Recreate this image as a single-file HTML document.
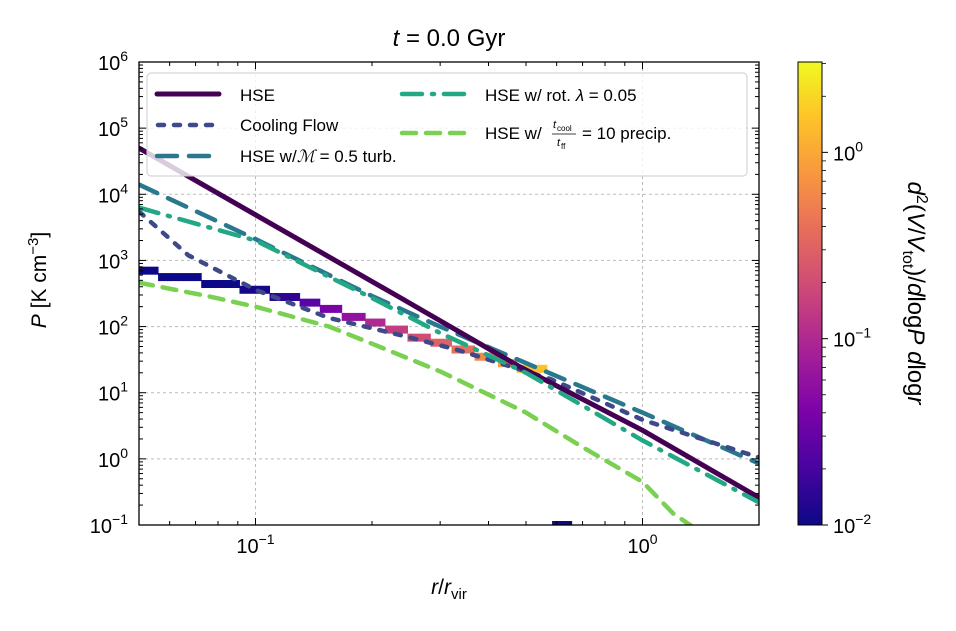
<!DOCTYPE html>
<html><head><meta charset="utf-8"><style>
body{margin:0;background:#fff;}
svg text{font-family:"Liberation Sans","DejaVu Sans",sans-serif;fill:#000;}
</style></head><body>
<svg id="chart" width="956" height="626" viewBox="0 0 956 626" xmlns="http://www.w3.org/2000/svg">
<defs><clipPath id="plotclip"><rect x="139" y="62" width="620" height="463"/></clipPath>
<linearGradient id="plasma" x1="0" y1="1" x2="0" y2="0">
<stop offset="0" stop-color="#0d0887"/><stop offset="0.13" stop-color="#4b03a1"/><stop offset="0.25" stop-color="#7d03a8"/><stop offset="0.38" stop-color="#a82296"/><stop offset="0.5" stop-color="#cb4679"/><stop offset="0.63" stop-color="#e56b5d"/><stop offset="0.75" stop-color="#f89441"/><stop offset="0.88" stop-color="#fdc328"/><stop offset="1" stop-color="#f0f921"/>
</linearGradient></defs>
<g id="grid"></g>
<g id="hist" clip-path="url(#plotclip)"></g>
<g id="lines" clip-path="url(#plotclip)"></g>
<rect x="139" y="62" width="620" height="463" fill="none" stroke="#000" stroke-width="1.3"/>
<g id="ticks"></g>
<text x="449" y="46" font-size="24" text-anchor="middle"><tspan font-style="italic">t</tspan> = 0.0 Gyr</text>
<text x="449" y="594" font-size="21" text-anchor="middle"><tspan font-style="italic">r</tspan>/<tspan font-style="italic">r</tspan><tspan font-size="15" dy="5">vir</tspan></text>
<text transform="translate(46,280) rotate(-90)" font-size="21" text-anchor="middle"><tspan font-style="italic">P</tspan> [K cm<tspan font-size="15" dy="-8">−3</tspan><tspan dy="8">]</tspan></text>
<g>
<rect x="147" y="73" width="600" height="103" rx="4" fill="rgba(255,255,255,0.8)" stroke="#ccc" stroke-width="1"/>
<g><line x1="157" y1="94" x2="219" y2="94" stroke="#440154" stroke-width="5" stroke-linecap="round"/><text x="240" y="101" font-size="17">HSE</text></g>
<g><line x1="158" y1="125" x2="219" y2="125" stroke="#3e4989" stroke-width="4.5" stroke-linecap="round" stroke-dasharray="6 10"/><text x="240" y="131" font-size="17">Cooling Flow</text></g>
<g><line x1="157" y1="156" x2="219" y2="156" stroke="#2a788e" stroke-width="4.5" stroke-linecap="round" stroke-dasharray="20 12"/><text x="240" y="162" font-size="17">HSE w/<tspan font-style="italic" font-family="Liberation Serif">ℳ</tspan> = 0.5 turb.</text></g>
<g><line x1="402" y1="94" x2="464" y2="94" stroke="#22a884" stroke-width="4.5" stroke-linecap="round" stroke-dasharray="20 10 2 10"/><text x="485" y="101" font-size="17">HSE w/ rot. <tspan font-style="italic">λ</tspan> = 0.05</text></g>
<g><line x1="402" y1="133" x2="464" y2="133" stroke="#7ad151" stroke-width="4.5" stroke-linecap="round" stroke-dasharray="14 10"/><text x="485" y="139" font-size="17">HSE w/ </text>
<text x="553" y="128" font-size="11" font-style="italic">t</text><text x="557" y="131" font-size="8">cool</text><line x1="552" y1="134" x2="576" y2="134" stroke="#000" stroke-width="0.8"/><text x="557" y="146" font-size="11" font-style="italic">t</text><text x="561" y="149" font-size="8">ff</text>
<text x="582" y="139" font-size="17">= 10 precip.</text></g>
</g>
<g>
<rect x="798" y="62" width="24" height="463" fill="url(#plasma)" stroke="#000" stroke-width="1"/>
<g id="cbticks"></g>
<text transform="translate(908,293) rotate(90)" font-size="24" text-anchor="middle"><tspan font-style="italic">d</tspan><tspan font-size="16" dy="-9">2</tspan><tspan dy="9">(</tspan><tspan font-style="italic">V</tspan>/<tspan font-style="italic">V</tspan><tspan font-size="16" dy="5">tot</tspan><tspan dy="-5">)/</tspan><tspan font-style="italic">d</tspan>log<tspan font-style="italic">P</tspan> <tspan font-style="italic">d</tspan>log<tspan font-style="italic">r</tspan></text>
</g>
</svg>
<script>
const xDecades = [0.1, 1];
const yDecades = [-1, 0, 1, 2, 3, 4, 5, 6];
const cbDecades = [-2, -1, 0];
const hseR = [0.05, 0.1, 0.235, 0.48, 1, 2];
const hseP = [50000, 4900, 280, 25, 2.7, 0.26];
const coolR = [0.05, 0.067, 0.1, 0.155, 0.235, 0.33, 0.58, 1, 2];
const coolP = [5500, 1200, 360, 135, 75, 45, 16, 3.9, 1.05];
const turbR = [0.05, 0.1, 0.2, 0.3, 0.5, 1, 2];
const turbP = [14000, 2100, 290, 100, 28, 5, 0.85];
const rotR = [0.05, 0.1, 0.2, 0.3, 0.5, 1, 2];
const rotP = [6300, 2000, 270, 80, 20, 1.9, 0.22];
const precR = [0.05, 0.075, 0.1, 0.155, 0.2, 0.3, 0.5, 0.7, 1, 1.2, 1.45];
const precP = [460, 290, 200, 100, 55, 21, 5, 1.5, 0.45, 0.15, 0.07];
const binEdges = [0.05,0.056,0.0724,0.0909,0.1087,0.130,0.1466,0.167,0.192,0.216,0.247,0.283,0.321,0.368,0.423,0.473,0.566];
const binP = [700,560,440,360,280,230,185,140,115,90,68,57,45,35,28,23];
const binC = [0.01,0.01,0.01,0.011,0.015,0.025,0.04,0.06,0.1,0.15,0.2,0.3,0.4,0.6,0.9,1.5];
const lowBinEdges = [0.584, 0.658];
const lowBinP = [0.1];
const lowBinC = [0.01];

const X0=139,X1=759,Y0=62,Y1=525;
const lxMin=Math.log10(0.05), lxMax=Math.log10(2), lyMin=-1, lyMax=6;
const cbMin=-2, cbMax=0.485;
function sx(r){return X0+(Math.log10(r)-lxMin)/(lxMax-lxMin)*(X1-X0);}
function sy(p){return Y1-(Math.log10(p)-lyMin)/(lyMax-lyMin)*(Y1-Y0);}
function scb(v){return 525-(Math.log10(v)-cbMin)/(cbMax-cbMin)*463;}
const NS="http://www.w3.org/2000/svg";
function mk(tag,attrs,parent){const e=document.createElementNS(NS,tag);for(const k in attrs)e.setAttribute(k,attrs[k]);parent.appendChild(e);return e;}
const stops=[[0,[13,8,135]],[0.13,[75,3,161]],[0.25,[125,3,168]],[0.38,[168,34,150]],[0.5,[203,70,121]],[0.63,[229,107,93]],[0.75,[248,148,65]],[0.88,[253,195,40]],[1,[240,249,33]]];
function plasma(v){let t=(Math.log10(v)-cbMin)/(cbMax-cbMin);t=Math.max(0,Math.min(1,t));for(let i=1;i<stops.length;i++){if(t<=stops[i][0]){const a=stops[i-1],b=stops[i];const f=(t-a[0])/(b[0]-a[0]);const c=a[1].map((x,j)=>Math.round(x+(b[1][j]-x)*f));return `rgb(${c})`;}}return 'rgb(240,249,33)';}

const grid=document.getElementById('grid'), ticks=document.getElementById('ticks');
xDecades.forEach(d=>{const x=sx(d);
 const g=mk('line',{x1:x,x2:x,y1:Y0,y2:Y1,stroke:'#bbb','stroke-width':1,'stroke-dasharray':'3 3'},grid);
 
 
 const t=mk('text',{x:x,y:553,'font-size':20,'text-anchor':'middle'},ticks);
 
 
 const e=Math.round(Math.log10(d));
 t.innerHTML=`10<tspan font-size="14" dy="-9">${e<0?'−'+(-e):e}</tspan>`;
});
for(let dec=-2;dec<=0;dec++)for(let m=1;m<10;m++){const r=m*Math.pow(10,dec);if(r<0.05||r>2)continue;const x=sx(r);const L=m===1?7:4;
 mk('line',{x1:x,x2:x,y1:Y1,y2:Y1-L,stroke:'#000','stroke-width':1},ticks);
 mk('line',{x1:x,x2:x,y1:Y0,y2:Y0+L,stroke:'#000','stroke-width':1},ticks);}
yDecades.forEach(d=>{const y=Y1-(d-lyMin)/(lyMax-lyMin)*(Y1-Y0);
 if(d>lyMin&&d<lyMax){const g=mk('line',{x1:X0,x2:X1,y1:y,y2:y,stroke:'#bbb','stroke-width':1,'stroke-dasharray':'3 3'},grid);
 
 }
 const t=mk('text',{x:128,y:y+8,'font-size':20,'text-anchor':'end'},ticks);
 
 
 t.innerHTML=`10<tspan font-size="14" dy="-9">${d<0?'−'+(-d):d}</tspan>`;
 for(let m=1;m<10;m++){if(d===lyMax&&m>1)break;const yy=sy(m*Math.pow(10,d));const L=m===1?7:4;
  mk('line',{x1:X0,x2:X0+L,y1:yy,y2:yy,stroke:'#000','stroke-width':1},ticks);
  mk('line',{x1:X1,x2:X1-L,y1:yy,y2:yy,stroke:'#000','stroke-width':1},ticks);}
});
const hist=document.getElementById('hist');
binP.forEach((p,i)=>{const x1=sx(binEdges[i]),x2=sx(binEdges[i+1]),y=sy(p);
 const r=mk('rect',{x:x1,y:y-4,width:x2-x1+0.5,height:8,fill:plasma(binC[i])},hist);
 
 });
lowBinP.forEach((p,i)=>{const x1=sx(lowBinEdges[i]),x2=sx(lowBinEdges[i+1]),y=sy(p);
 const r=mk('rect',{x:x1,y:y-4,width:x2-x1,height:8,fill:plasma(lowBinC[i])},hist);
 
 });
const lines=document.getElementById('lines');
function curve(R,P,color,w,dash,name){const pts=R.map((r,i)=>sx(r).toFixed(1)+','+sy(P[i]).toFixed(1)).join(' ');
 const a={points:pts,fill:'none',stroke:color,'stroke-width':w,'stroke-linecap':'round','stroke-linejoin':'round'};if(dash)a['stroke-dasharray']=dash;
 const l=mk('polyline',a,lines);
 
 }
curve(turbR,turbP,'#2a788e',4.5,'20 12','turbulence-line');
curve(coolR,coolP,'#3e4989',4.5,'6 10','cooling-flow-line');
curve(hseR,hseP,'#440154',5,null,'hse-line');
curve(rotR,rotP,'#22a884',4.5,'20 10 2 10','rotation-line');
curve(precR,precP,'#7ad151',4.5,'14 10','precipitation-line');
const cbt=document.getElementById('cbticks');
cbDecades.forEach(d=>{const y=scb(Math.pow(10,d));
 mk('line',{x1:822,x2:828,y1:y,y2:y,stroke:'#000','stroke-width':1},cbt);
 const t=mk('text',{x:833,y:y+8,'font-size':20},cbt);
 
 
 t.innerHTML=`10<tspan font-size="14" dy="-9">${d<0?'−'+(-d):d}</tspan>`;});
for(let d=-2;d<=0;d++)for(let m=2;m<10;m++){const v=m*Math.pow(10,d);if(Math.log10(v)>cbMax)continue;const y=scb(v);
 mk('line',{x1:822,x2:826,y1:y,y2:y,stroke:'#000','stroke-width':0.8},cbt);}
</script>
</body></html>
